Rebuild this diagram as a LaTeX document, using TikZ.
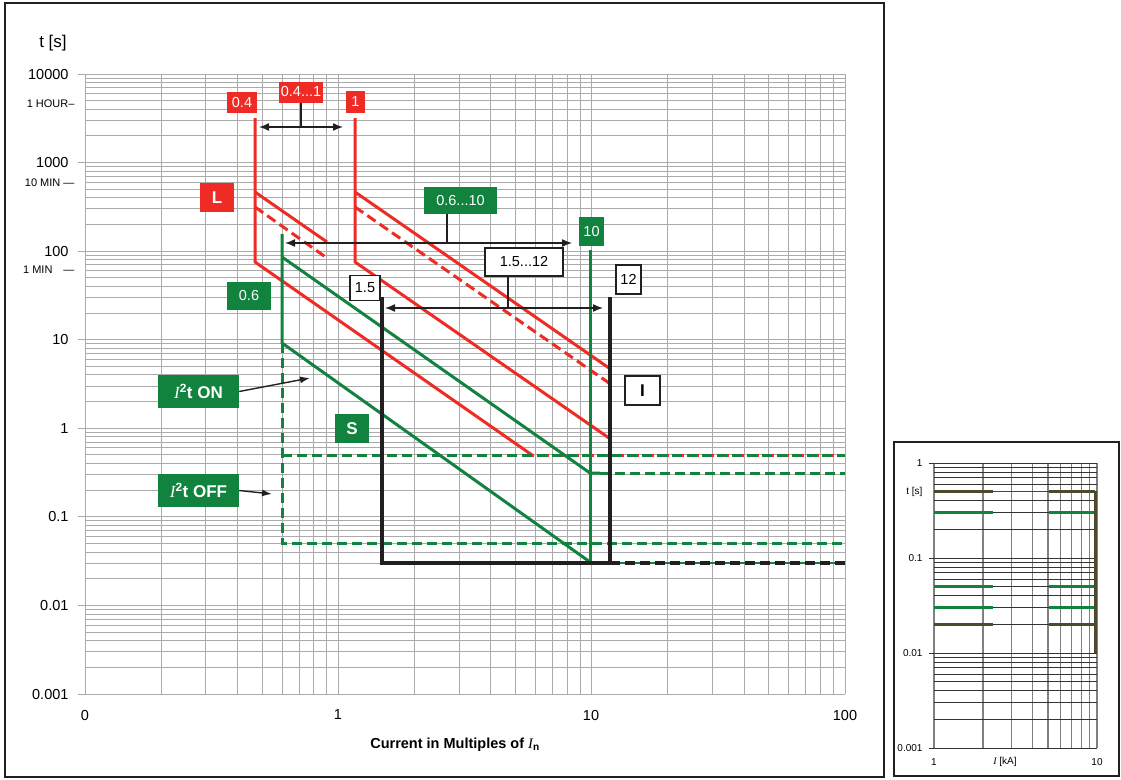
\documentclass[tikz,border=0pt]{standalone}
\usepackage{fontspec}
\setmainfont{Liberation Sans}
\newfontfamily\serifI{Liberation Serif}
\usetikzlibrary{arrows.meta}
\definecolor{lsired}{HTML}{EE2B24}
\definecolor{lsigreen}{HTML}{11833F}
\definecolor{lsiblack}{HTML}{231F20}
\definecolor{gridgray}{HTML}{ABABAB}
\definecolor{insetolive}{HTML}{4D4A2E}
\definecolor{insetred}{HTML}{A01E22}
\newcommand{\curI}{{\serifI\mdseries\itshape I}}

\begin{document}
\begin{tikzpicture}[x=1pt,y=-1pt,
  gridline/.style={draw=gridgray,line width=1pt},
  boxfont/.style={font=\fontsize{14.5}{16}\selectfont},
  redbox/.style={boxfont,fill=lsired,text=white,inner sep=0pt},
  greenbox/.style={boxfont,fill=lsigreen,text=white,inner sep=0pt},
  whitebox/.style={boxfont,draw=lsiblack,line width=1.3pt,fill=white,inner sep=0pt},
  tagfont/.style={font=\bfseries\fontsize{17}{19}\selectfont},
  redcurve/.style={lsired,line width=3pt},
  greencurve/.style={lsigreen,line width=3pt},
  blackcurve/.style={lsiblack,line width=4.5pt},
  dashcurve/.style={dash pattern=on 10pt off 5pt},
  span/.style={lsiblack,line width=1.4pt,{Latex[length=10pt,width=8pt]}-{Latex[length=10pt,width=8pt]}},
  stem/.style={lsiblack,line width=1.4pt},
  pointer/.style={lsiblack,line width=1.4pt,-{Latex[length=10pt,width=7pt]}},
  axisnum/.style={font=\fontsize{14.5}{16}\selectfont,anchor=east},
  hournum/.style={font=\fontsize{11}{13}\selectfont,anchor=east},
  insetnum/.style={font=\fontsize{10}{12}\selectfont},
]
\useasboundingbox (0,0) rectangle (1121,779);
\draw[lsiblack,line width=1.5pt] (5,3) rectangle (884,777);
\draw[lsiblack,line width=1.2pt] (894,442) rectangle (1119,776);

% main grid
\foreach \d in {0,1,2}
  \foreach \k in {1,...,9} {
    \pgfmathsetmacro\gx{85+253.3*(\d+log10(\k))}
    \draw[gridline] (\gx,74) -- (\gx,694);
  }
\draw[gridline] (845,74) -- (845,694);
\foreach \d in {0,...,6}
  \foreach \k in {1,...,9} {
    \pgfmathsetmacro\gy{694-88.57*(\d+log10(\k))}
    \draw[gridline] (85,\gy) -- (845,\gy);
  }
\draw[gridline] (85,74) -- (845,74);
\foreach \d/\lab in {0/0.001,1/0.01,2/0.1,3/1,4/10,5/100,6/1000,7/10000} {
  \pgfmathsetmacro\gy{694-88.57*\d}
  \draw[gridline] (78,\gy) -- (85,\gy);
  \node[axisnum] at (72,\gy) {\lab};
}
\node[hournum] at (78,104) {1 HOUR--};
\node[hournum] at (78,183) {10 MIN ---};
\node[hournum] at (78,270) {1 MIN\quad ---};
\node[font=\fontsize{17}{19}\selectfont] (tlabel) at (53,43) {t [s]};
\foreach \gx/\lab in {85/0,338/1,591/10,845/100}
  \node[font=\fontsize{14.5}{16}\selectfont] at (\gx,715) {\lab};
\node[font=\bfseries\fontsize{14.5}{16}\selectfont] (xtitle) at (455,745)
  {Current in Multiples of \curI\textsubscript{n}};

% L band
\draw[redcurve,dashcurve,dash phase=8pt] (532,455) -- (845,455);
\draw[redcurve,line join=miter] (255,118) -- (255,262) -- (532,455);
\draw[redcurve] (255,192) -- (327,242);
\draw[redcurve,dashcurve] (255,207) -- (327,258);
\draw[redcurve,line join=miter] (355,118) -- (355,262) -- (609,438);
\draw[redcurve] (355,192) -- (609,368);
\draw[redcurve,dashcurve] (355,207) -- (609,383);

% S band
\draw[greencurve,line join=miter] (282,234) -- (282,343) -- (590,562);
\draw[greencurve] (282,257) -- (590,473) -- (600,473);
\draw[greencurve] (590,250) -- (590,562);
\draw[greencurve,dashcurve] (282,343) -- (282,543) -- (845,543);
\draw[greencurve,dashcurve] (282,455) -- (845,455);
\draw[greencurve,dashcurve] (600,473) -- (845,473);
\draw[lsigreen,line width=1.5pt] (610,563) -- (845,563);

% I band
\draw[blackcurve,line join=miter] (382,297) -- (382,563) -- (610,563) -- (610,297);
\draw[blackcurve,dashcurve] (610,563) -- (845,563);

% setting ranges
\node[redbox,minimum width=30pt,minimum height=21pt] (r04) at (242,102.5) {0.4};
\node[redbox,minimum width=19pt,minimum height=22pt] (r1) at (355.5,102) {1};
\node[redbox,minimum width=44pt,minimum height=21pt] (r041) at (301,92) {0.4...1};
\node[redbox,tagfont,minimum width=34pt,minimum height=29pt] (tagL) at (217,197.5) {L};
\node[greenbox,minimum width=44pt,minimum height=28pt] (g06) at (249,296) {0.6};
\node[greenbox,minimum width=25pt,minimum height=29pt] (g10) at (591.5,231.5) {10};
\node[greenbox,minimum width=73pt,minimum height=27pt] (g0610) at (460.5,200.5) {0.6...10};
\node[greenbox,tagfont,minimum width=34pt,minimum height=29pt] (tagS) at (352,428.5) {S};
\node[greenbox,tagfont,minimum width=81pt,minimum height=33pt] (i2ton) at (198.5,391.5) {\curI\textsuperscript{2}t ON};
\node[greenbox,tagfont,minimum width=81pt,minimum height=33pt] (i2toff) at (198.5,490.5) {\curI\textsuperscript{2}t OFF};
\node[whitebox,minimum width=30pt,minimum height=25pt] (w15) at (365,288) {1.5};
\node[whitebox,minimum width=25pt,minimum height=29pt] (w12) at (628.5,279.5) {12};
\node[whitebox,minimum width=78pt,minimum height=28pt] (w1512) at (524,262) {1.5...12};
\node[whitebox,tagfont,minimum width=35pt,minimum height=29pt] (tagI) at (642.5,390.5) {I};

\coordinate (a04) at (259,127);
\coordinate (a1) at (343,127);
\coordinate (a06) at (285,243);
\coordinate (a10) at (572,243);
\coordinate (s0610) at (447,243);
\coordinate (a15) at (385,308);
\coordinate (a12) at (603,308);
\coordinate (s1512) at (508,308);
\coordinate (onend) at (310,378);
\coordinate (offend) at (272,494);
\draw[span] (a04) -- (a1);
\draw[stem] (r041.south) -- (r041.south |- a04);
\draw[span] (a06) -- (a10);
\draw[stem] (s0610 |- g0610.south) -- (s0610);
\draw[span] (a15) -- (a12);
\draw[stem] (s1512 |- w1512.south) -- (s1512);
\draw[pointer] (i2ton.east) -- (onend);
\draw[pointer] (i2toff.east) -- (offend);

% inset
\foreach \k in {1,...,10} {
  \pgfmathsetmacro\gx{934+163*log10(\k)}
  \draw[draw=gray,line width=1.2pt] (\gx,463) -- (\gx,748);
}
\foreach \d in {0,1,2}
  \foreach \k in {1,...,9} {
    \pgfmathsetmacro\gy{748-95*(\d+log10(\k))}
    \draw[draw=black!80,line width=0.8pt] (934,\gy) -- (1097,\gy);
  }
\draw[draw=black!80,line width=0.8pt] (934,463) -- (1097,463);
\foreach \d in {0,...,3} {
  \pgfmathsetmacro\gy{748-95*\d}
  \draw[draw=black!80,line width=0.8pt] (929,\gy) -- (934,\gy);
}
\foreach \ty/\tc in {512.7/lsigreen,586.6/lsigreen,607.7/lsigreen,491.6/insetolive,624.4/insetolive} {
  \draw[\tc,line width=3pt] (934,\ty) -- (993,\ty);
  \draw[\tc,line width=3pt] (1049,\ty) -- (1095,\ty);
}
\draw[insetred,line width=1pt] (934,491.6) -- (1095,491.6);
\draw[insetolive,line width=3pt] (1095,491.6) -- (1095,653);
\node[insetnum,anchor=east] at (926,463) {1};
\node[insetnum,anchor=east] at (926,492) {t [s]};
\node[insetnum,anchor=east] at (926,558) {0.1};
\node[insetnum,anchor=east] at (926,653) {0.01};
\node[insetnum,anchor=east] at (926,748) {0.001};
\node[insetnum] at (934,762) {1};
\node[insetnum] at (1005,762) {\curI\ [kA]};
\node[insetnum] at (1097,762) {10};
\end{tikzpicture}
\end{document}
